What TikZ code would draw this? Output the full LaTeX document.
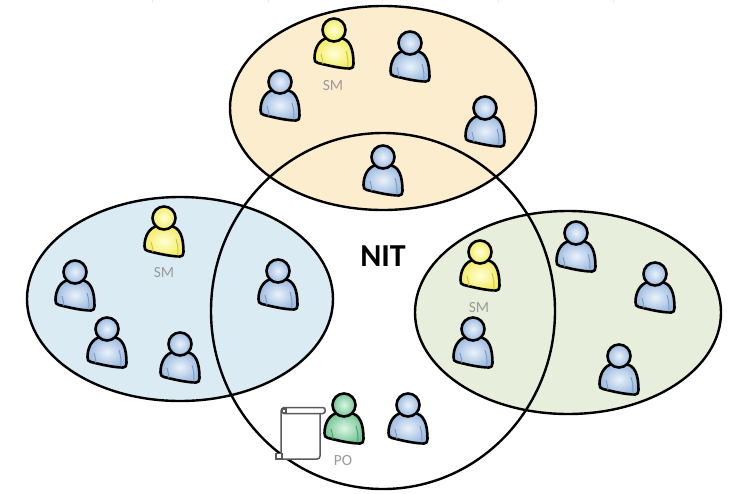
\documentclass[tikz,border=0pt]{standalone}
\usepackage{fontspec}
\setmainfont{Carlito}
\definecolor{topfill}{HTML}{FDEDCF}
\definecolor{leftfill}{HTML}{DAEBF3}
\definecolor{rightfill}{HTML}{E8EEDC}
\definecolor{blueIn}{HTML}{EAF2FA}
\definecolor{blueOut}{HTML}{9DBBE0}
\definecolor{blueDk}{HTML}{7F9CC0}
\definecolor{yelIn}{HTML}{FFFFD8}
\definecolor{yelOut}{HTML}{F4EC66}
\definecolor{yelDk}{HTML}{CFC748}
\definecolor{grnIn}{HTML}{DDF5E5}
\definecolor{grnOut}{HTML}{74C694}
\definecolor{grnDk}{HTML}{4F9F70}
\definecolor{labelgray}{HTML}{9A9A9A}
\tikzset{
  x=1pt,y=-1pt,
  group/.style={draw=black,line width=2.4pt},
  smlabel/.style={text=labelgray,font=\fontsize{15.5}{16}\selectfont,inner sep=0pt},
  pics/person/.style n args={3}{code={
    \shadedraw[inner color=#1,outer color=#2,draw=black,line width=2.6pt,line join=round]
      (-6,8) .. controls (-15,9) and (-19.5,19) .. (-19.5,28)
      .. controls (-19.5,31) and (-19,32.5) .. (-16,33)
      .. controls (-8,35) and (6,38.5) .. (16,38.5)
      .. controls (18.5,38.5) and (19.5,37) .. (19.5,34)
      .. controls (19.5,19) and (16,9) .. (6,8) -- cycle;
    \draw[#3,line width=1pt] (-13,24) .. controls (-12,28) and (-11,31) .. (-11,34);
    \draw[#3,line width=1pt] (12,21) .. controls (14,27) and (14,32) .. (14,37.5);
    \shadedraw[inner color=#1,outer color=#2,draw=black,line width=2.6pt] (0,0) circle[radius=11.5];
  }},
}
\begin{document}
\begin{tikzpicture}
\useasboundingbox (0,0) rectangle (735,493);
\fill[white] (0,0) rectangle (735,493);
% faint ticks at the top edge
\foreach \tx in {152,268,382,498,613} \draw[black!8,line width=0.8pt] (\tx,0) -- (\tx,3);
% groups
\draw[group,fill=topfill] (383,108) ellipse[x radius=153,y radius=102];
\draw[group,fill=leftfill] (180,299) ellipse[x radius=153,y radius=102];
\draw[group,fill=rightfill] (568,312.5) ellipse[x radius=153,y radius=101.5];
\draw[group] (383,311) ellipse[x radius=172,y radius=178];
% top group
\pic at (334,30) {person={yelIn}{yelOut}{yelDk}};
\pic at (410,43) {person={blueIn}{blueOut}{blueDk}};
\pic at (280,82) {person={blueIn}{blueOut}{blueDk}};
\pic at (485,108) {person={blueIn}{blueOut}{blueDk}};
\pic at (383,157) {person={blueIn}{blueOut}{blueDk}};
% left group
\pic at (164,218) {person={yelIn}{yelOut}{yelDk}};
\pic at (75,272) {person={blueIn}{blueOut}{blueDk}};
\pic at (107,329) {person={blueIn}{blueOut}{blueDk}};
\pic at (180,344) {person={blueIn}{blueOut}{blueDk}};
\pic at (278,271) {person={blueIn}{blueOut}{blueDk}};
% right group
\pic at (480,252) {person={yelIn}{yelOut}{yelDk}};
\pic at (473,329) {person={blueIn}{blueOut}{blueDk}};
\pic at (576,233) {person={blueIn}{blueOut}{blueDk}};
\pic at (655,274) {person={blueIn}{blueOut}{blueDk}};
\pic at (619,356) {person={blueIn}{blueOut}{blueDk}};
% scroll
\draw[draw=black!65,fill=white,line width=1.5pt,line join=round]
  (281,410) -- (320,410) -- (320,456) .. controls (320,458) and (319,459) .. (317,459)
  -- (281,459) -- cycle;
\draw[draw=black!65,fill=white,line width=1.5pt,line join=round]
  (284,407.5) -- (323,407.5) .. controls (326,407.5) and (326,413.5) .. (323,413.5) -- (284,413.5)
  .. controls (281,413.5) and (281,407.5) .. (284,407.5) -- cycle;
\draw[draw=black!65,fill=white,line width=1.3pt] (276,453.5) rectangle (282,459);
\draw[draw=black!65,fill=white,line width=1.2pt] (282,409) rectangle (286,412.5);
% bottom persons
\pic at (344,405) {person={grnIn}{grnOut}{grnDk}};
\pic at (408,405) {person={blueIn}{blueOut}{blueDk}};
% labels
\node[smlabel] (smTop) at (333,86) {SM};
\node[smlabel] (smLeft) at (164,273) {SM};
\node[smlabel] (smRight) at (479,308) {SM};
\node[smlabel] (po) at (343,461) {PO};
\node[inner sep=0pt,font=\fontsize{32}{34}\selectfont\bfseries] (nit) at (383,256) {NIT};
\end{tikzpicture}
\end{document}
